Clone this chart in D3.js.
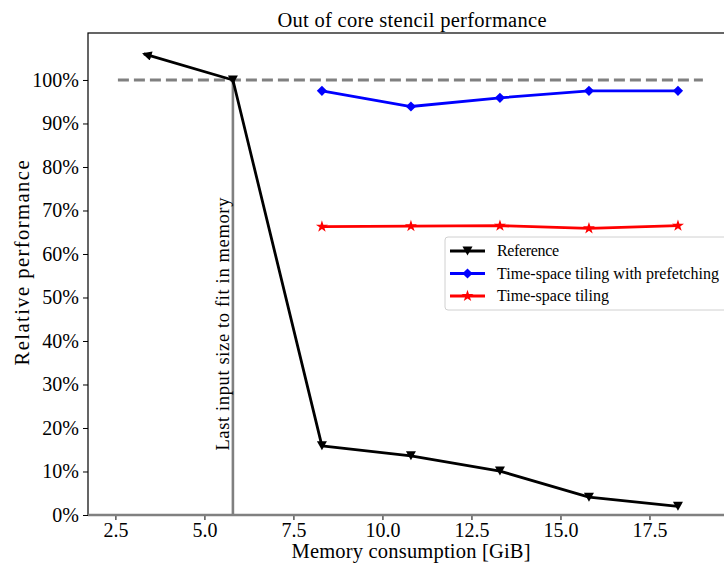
<!DOCTYPE html>
<html>
<head>
<meta charset="utf-8">
<script src="https://cdn.jsdelivr.net/npm/d3@7"></script>
<style>
  body { margin: 0; background: #fff; }
  svg text { font-family: "Liberation Serif", "DejaVu Serif", serif; fill: #000; }
</style>
</head>
<body>
<script>

// data
var refX    = [3.3, 5.8, 8.3, 10.8, 13.3, 15.8, 18.3];
var refY    = [106, 100, 15.9, 13.6, 10.1, 4.1, 2.0];
var tileX   = [8.3, 10.8, 13.3, 15.8, 18.3];
var prefY   = [97.5, 93.9, 95.9, 97.5, 97.5];
var tileY   = [66.3, 66.4, 66.5, 65.9, 66.5];
var xTicks  = [2.5, 5.0, 7.5, 10.0, 12.5, 15.0, 17.5];
var yTicks  = [0, 10, 20, 30, 40, 50, 60, 70, 80, 90, 100];
var legendNames = ["Reference", "Time-space tiling with prefetching", "Time-space tiling"];
var fitX = 5.8;          // last input size that fits in memory
var baseY = 100;         // 100% reference line
var baseFrom = 2.57, baseTo = 19.0;

var margin = {top: 33, left: 88};
var width = 724, height = 570;
var plotW = 648, plotH = 482;

var svg = d3.select("body").append("svg")
    .attr("width", width)
    .attr("height", height);

var x = d3.scaleLinear().domain([1.73, 19.93]).range([0, plotW]);
var y = d3.scaleLinear().domain([0, 110.8]).range([plotH, 0]);

var g = svg.append("g")
    .attr("transform", "translate(" + margin.left + "," + margin.top + ")");

// frame
g.append("rect")
    .attr("width", plotW).attr("height", plotH)
    .attr("fill", "none").attr("stroke", "#000").attr("stroke-width", 1.2);

// axes
var xAxis = g.append("g")
    .attr("transform", "translate(0," + plotH + ")")
    .call(d3.axisBottom(x).tickValues(xTicks).tickFormat(d3.format(".1f")).tickSize(5).tickPadding(3));
var yAxis = g.append("g")
    .call(d3.axisLeft(y).tickValues(yTicks).tickFormat(function(d) { return d + "%"; }).tickSize(5).tickPadding(4));
[xAxis, yAxis].forEach(function(a) {
  a.select(".domain").remove();
  a.selectAll("line").attr("stroke", "#000").attr("stroke-width", 1);
  a.selectAll("text").style("font-size", "20px").attr("font-family", null);
});

// gray reference lines
g.append("line")
    .attr("x1", x(baseFrom)).attr("x2", x(baseTo))
    .attr("y1", y(baseY)).attr("y2", y(baseY))
    .attr("stroke", "#808080").attr("stroke-width", 2.8)
    .attr("stroke-dasharray", "11,5");
g.append("line")
    .attr("x1", x(fitX)).attr("x2", x(fitX))
    .attr("y1", y(baseY)).attr("y2", y(0))
    .attr("stroke", "#808080").attr("stroke-width", 2.6);
g.append("line")
    .attr("x1", 0).attr("x2", plotW)
    .attr("y1", y(0)).attr("y2", y(0))
    .attr("stroke", "#808080").attr("stroke-width", 2.4);

g.append("text")
    .attr("transform", "translate(" + (x(fitX) - 4) + "," + y(14.8) + ") rotate(-90)")
    .attr("textLength", 253).attr("lengthAdjust", "spacing")
    .style("font-size", "18.5px")
    .text("Last input size to fit in memory");

// arrow head for the first reference point
svg.append("defs").append("marker")
    .attr("id", "arrow")
    .attr("viewBox", "0 0 10 10")
    .attr("refX", 8).attr("refY", 5)
    .attr("markerWidth", 3.6).attr("markerHeight", 3.4)
    .attr("markerUnits", "strokeWidth")
    .attr("orient", "auto-start-reverse")
  .append("path")
    .attr("d", "M0,0L10,5L0,10z")
    .attr("fill", "#000");

var line = d3.line()
    .x(function(d) { return x(d[0]); })
    .y(function(d) { return y(d[1]); });

var series = [
  {name: legendNames[0], xs: refX, ys: refY, color: "#000000", sym: "tri"},
  {name: legendNames[1], xs: tileX, ys: prefY, color: "#0000ff", sym: "diamond"},
  {name: legendNames[2], xs: tileX, ys: tileY, color: "#ff0000", sym: "star"}
];

var triPath = "M-5,-4.5L5,-4.5L0,4.5z";
var diamondPath = d3.symbol().type(d3.symbolSquare).size(52)();
var starPath = d3.symbol().type(d3.symbolStar).size(45)();

function drawMarker(sel, s) {
  var p = s.sym === "tri" ? triPath : (s.sym === "star" ? starPath : diamondPath);
  var m = sel.append("path").attr("d", p).attr("fill", s.color);
  if (s.sym === "diamond") m.attr("transform", "rotate(45)");
  return m;
}

series.forEach(function(s) {
  var pts = s.xs.map(function(v, i) { return [v, s.ys[i]]; });
  var path = g.append("path")
      .attr("d", line(pts))
      .attr("fill", "none")
      .attr("stroke", s.color)
      .attr("stroke-width", 2.8)
      .attr("stroke-linejoin", "round");
  if (s.sym === "tri") path.attr("marker-start", "url(#arrow)");
  pts.forEach(function(p, i) {
    if (s.sym === "tri" && i === 0) return;
    var mg = g.append("g").attr("transform", "translate(" + x(p[0]) + "," + y(p[1]) + ")");
    drawMarker(mg, s);
  });
});

// legend
var lg = svg.append("g").attr("transform", "translate(445,237)");
lg.append("rect")
    .attr("width", 290).attr("height", 73).attr("rx", 3)
    .attr("fill", "#fff").attr("fill-opacity", 0.85)
    .attr("stroke", "#d0d0d0").attr("stroke-width", 1);
var legendLen = [62, 222, 112];
series.forEach(function(s, i) {
  var row = lg.append("g").attr("transform", "translate(0," + (14 + i * 22.5) + ")");
  row.append("line")
      .attr("x1", 5).attr("x2", 40)
      .attr("stroke", s.color).attr("stroke-width", 2.8);
  drawMarker(row.append("g").attr("transform", "translate(22.5,0)"), s);
  row.append("text")
      .attr("x", 52).attr("dy", "0.33em")
      .attr("textLength", legendLen[i]).attr("lengthAdjust", "spacing")
      .style("font-size", "16px")
      .text(s.name);
});

// titles
svg.append("text")
    .attr("x", margin.left + plotW / 2).attr("y", 27)
    .attr("text-anchor", "middle")
    .attr("textLength", 269).attr("lengthAdjust", "spacing")
    .style("font-size", "20.5px")
    .text("Out of core stencil performance");
svg.append("text")
    .attr("x", 411).attr("y", 558)
    .attr("text-anchor", "middle")
    .attr("textLength", 239).attr("lengthAdjust", "spacing")
    .style("font-size", "20.5px")
    .text("Memory consumption [GiB]");
svg.append("text")
    .attr("transform", "translate(29,263) rotate(-90)")
    .attr("text-anchor", "middle")
    .attr("textLength", 205).attr("lengthAdjust", "spacing")
    .style("font-size", "20.5px")
    .text("Relative performance");

</script>
</body>
</html>
